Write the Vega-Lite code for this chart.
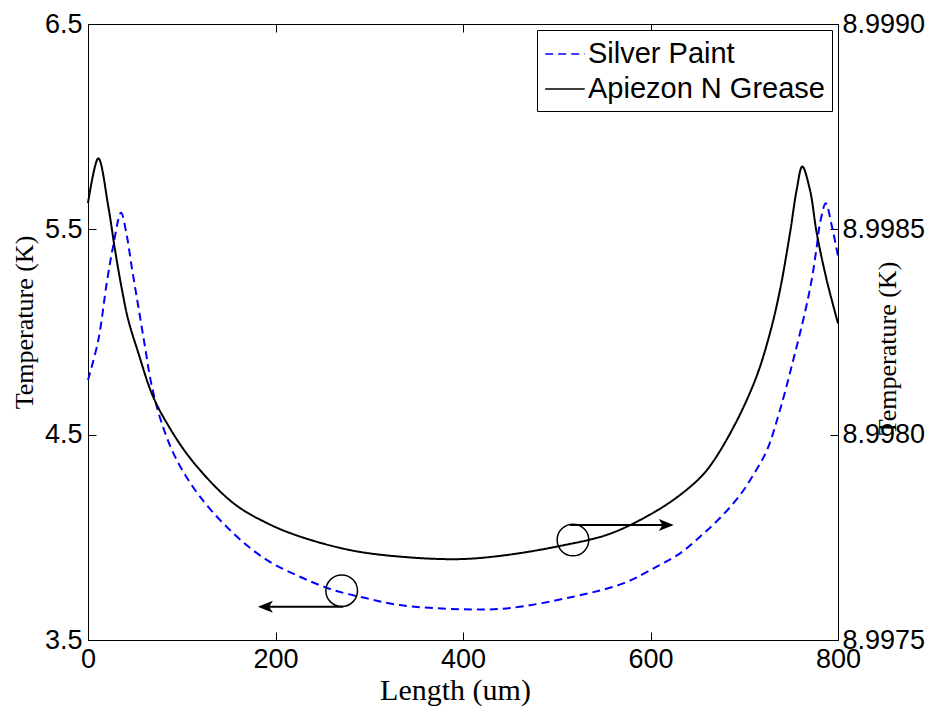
{
  "$schema": "https://vega.github.io/schema/vega-lite/v6.json",
  "width": 750,
  "height": 616,
  "autosize": "none",
  "padding": {"left": 88, "top": 24, "right": 100, "bottom": 75},
  "background": "white",
  "config": {
    "view": {"stroke": "#000", "strokeWidth": 1},
    "axis": {
      "domainColor": "#000",
      "tickColor": "#000",
      "tickSize": -8,
      "labelFont": "Liberation Sans",
      "labelFontSize": 27,
      "labelColor": "#000",
      "labelFlush": false,
      "labelOverlap": false,
      "labelBound": false,
      "grid": false,
      "titleFont": "Liberation Serif",
      "titleFontWeight": "normal",
      "titleColor": "#000"
    },
    "legend": {
      "orient": "top-right",
      "offset": 6,
      "strokeColor": "#000",
      "fillColor": "#fff",
      "padding": 7,
      "labelFont": "Liberation Sans",
      "labelFontSize": 29,
      "labelColor": "#000",
      "labelLimit": 400,
      "symbolType": "M-1,0H1.5",
      "symbolSize": 1000,
      "symbolStrokeWidth": 1.5,
      "labelOffset": 10,
      "rowPadding": 3,
      "title": null
    }
  },
  "datasets": {
    "silver": [
      {"len": 0, "temp": 4.766, "series": "Silver Paint"},
      {"len": 11, "temp": 4.961, "series": "Silver Paint"},
      {"len": 20, "temp": 5.239, "series": "Silver Paint"},
      {"len": 27, "temp": 5.422, "series": "Silver Paint"},
      {"len": 35.2, "temp": 5.581, "series": "Silver Paint"},
      {"len": 41.3, "temp": 5.471, "series": "Silver Paint"},
      {"len": 46.6, "temp": 5.318, "series": "Silver Paint"},
      {"len": 53.7, "temp": 5.123, "series": "Silver Paint"},
      {"len": 60.8, "temp": 4.928, "series": "Silver Paint"},
      {"len": 67.9, "temp": 4.74, "series": "Silver Paint"},
      {"len": 78.6, "temp": 4.557, "series": "Silver Paint"},
      {"len": 94.6, "temp": 4.377, "series": "Silver Paint"},
      {"len": 119.5, "temp": 4.198, "series": "Silver Paint"},
      {"len": 154.7, "temp": 4.021, "series": "Silver Paint"},
      {"len": 190.6, "temp": 3.89, "series": "Silver Paint"},
      {"len": 226.1, "temp": 3.808, "series": "Silver Paint"},
      {"len": 261.3, "temp": 3.744, "series": "Silver Paint"},
      {"len": 297.3, "temp": 3.703, "series": "Silver Paint"},
      {"len": 332.8, "temp": 3.67, "series": "Silver Paint"},
      {"len": 396.8, "temp": 3.65, "series": "Silver Paint"},
      {"len": 446.6, "temp": 3.654, "series": "Silver Paint"},
      {"len": 517.7, "temp": 3.711, "series": "Silver Paint"},
      {"len": 571, "temp": 3.776, "series": "Silver Paint"},
      {"len": 606.6, "temp": 3.857, "series": "Silver Paint"},
      {"len": 631.5, "temp": 3.922, "series": "Silver Paint"},
      {"len": 652.8, "temp": 4.003, "series": "Silver Paint"},
      {"len": 674.1, "temp": 4.094, "series": "Silver Paint"},
      {"len": 695.5, "temp": 4.206, "series": "Silver Paint"},
      {"len": 711.5, "temp": 4.318, "series": "Silver Paint"},
      {"len": 724.3, "temp": 4.425, "series": "Silver Paint"},
      {"len": 738.1, "temp": 4.62, "series": "Silver Paint"},
      {"len": 752.3, "temp": 4.864, "series": "Silver Paint"},
      {"len": 764.8, "temp": 5.097, "series": "Silver Paint"},
      {"len": 771.9, "temp": 5.253, "series": "Silver Paint"},
      {"len": 777.3, "temp": 5.415, "series": "Silver Paint"},
      {"len": 780.8, "temp": 5.529, "series": "Silver Paint"},
      {"len": 786.9, "temp": 5.627, "series": "Silver Paint"},
      {"len": 793.3, "temp": 5.519, "series": "Silver Paint"},
      {"len": 800, "temp": 5.37, "series": "Silver Paint"}
    ],
    "grease": [
      {"len": 0, "temp": 8.998564, "series": "Apiezon N Grease"},
      {"len": 11, "temp": 8.998673, "series": "Apiezon N Grease"},
      {"len": 21.7, "temp": 8.998555, "series": "Apiezon N Grease"},
      {"len": 28.8, "temp": 8.99845, "series": "Apiezon N Grease"},
      {"len": 35.9, "temp": 8.998357, "series": "Apiezon N Grease"},
      {"len": 43, "temp": 8.998279, "series": "Apiezon N Grease"},
      {"len": 53.7, "temp": 8.998199, "series": "Apiezon N Grease"},
      {"len": 67.9, "temp": 8.998101, "series": "Apiezon N Grease"},
      {"len": 82.1, "temp": 8.998036, "series": "Apiezon N Grease"},
      {"len": 110.6, "temp": 8.997938, "series": "Apiezon N Grease"},
      {"len": 154.7, "temp": 8.997834, "series": "Apiezon N Grease"},
      {"len": 190.6, "temp": 8.997785, "series": "Apiezon N Grease"},
      {"len": 226.1, "temp": 8.997752, "series": "Apiezon N Grease"},
      {"len": 279.5, "temp": 8.997719, "series": "Apiezon N Grease"},
      {"len": 332.8, "temp": 8.997703, "series": "Apiezon N Grease"},
      {"len": 396.8, "temp": 8.997697, "series": "Apiezon N Grease"},
      {"len": 446.6, "temp": 8.997707, "series": "Apiezon N Grease"},
      {"len": 503.5, "temp": 8.997729, "series": "Apiezon N Grease"},
      {"len": 553.3, "temp": 8.997756, "series": "Apiezon N Grease"},
      {"len": 588.8, "temp": 8.997792, "series": "Apiezon N Grease"},
      {"len": 624.3, "temp": 8.997841, "series": "Apiezon N Grease"},
      {"len": 652.8, "temp": 8.997895, "series": "Apiezon N Grease"},
      {"len": 667, "temp": 8.997935, "series": "Apiezon N Grease"},
      {"len": 691.9, "temp": 8.998033, "series": "Apiezon N Grease"},
      {"len": 713.3, "temp": 8.998143, "series": "Apiezon N Grease"},
      {"len": 727.5, "temp": 8.998248, "series": "Apiezon N Grease"},
      {"len": 738.1, "temp": 8.998352, "series": "Apiezon N Grease"},
      {"len": 748.8, "temp": 8.998491, "series": "Apiezon N Grease"},
      {"len": 755.9, "temp": 8.998596, "series": "Apiezon N Grease"},
      {"len": 761.9, "temp": 8.998653, "series": "Apiezon N Grease"},
      {"len": 770.1, "temp": 8.998596, "series": "Apiezon N Grease"},
      {"len": 777.3, "temp": 8.998491, "series": "Apiezon N Grease"},
      {"len": 787.9, "temp": 8.998377, "series": "Apiezon N Grease"},
      {"len": 800, "temp": 8.998271, "series": "Apiezon N Grease"}
    ],
    "circles": [
      {"len": 517.3, "temp": 3.987},
      {"len": 270.6, "temp": 3.74}
    ],
    "arrows": [
      {"len": 514, "len2": 620, "temp": 4.06},
      {"len": 272.3, "len2": 186, "temp": 3.662}
    ],
    "heads": [
      {"len": 616.8, "temp": 4.06, "ang": 0},
      {"len": 189.2, "temp": 3.662, "ang": 180}
    ]
  },
  "layer": [
    {
      "layer": [
        {
          "data": {"name": "silver"},
          "mark": {"type": "line", "interpolate": "catmull-rom", "strokeWidth": 2},
          "encoding": {
            "x": {
              "field": "len", "type": "quantitative",
              "scale": {"domain": [0, 800], "nice": false, "zero": false},
              "axis": {"orient": "bottom", "values": [0, 200, 400, 600, 800], "format": "d", "labelPadding": 14,
                "title": "Length (um)", "titleFontSize": 30, "titleX": 367, "titleY": 50, "titleBaseline": "middle", "titleAlign": "center"}
            },
            "y": {
              "field": "temp", "type": "quantitative",
              "scale": {"domain": [3.5, 6.5], "nice": false, "zero": false},
              "axis": {"orient": "left", "values": [3.5, 4.5, 5.5, 6.5], "format": ".1f", "labelPadding": 14,
                "title": "Temperature (K)", "titleFontSize": 26, "titleX": -64, "titleY": 298, "titleAngle": 270, "titleBaseline": "middle", "titleAlign": "center"}
            },
            "color": {"field": "series", "type": "nominal",
              "scale": {"domain": ["Silver Paint", "Apiezon N Grease"], "range": ["#0000ff", "#000000"]}},
            "strokeDash": {"field": "series", "type": "nominal",
              "scale": {"domain": ["Silver Paint", "Apiezon N Grease"], "range": [[8, 5], [1, 0]]}}
          }
        },
        {
          "data": {"name": "circles"},
          "mark": {"type": "point", "shape": "circle", "filled": false, "size": 1000, "stroke": "#000", "strokeWidth": 1.5, "opacity": 1},
          "encoding": {
            "x": {"field": "len", "type": "quantitative"},
            "y": {"field": "temp", "type": "quantitative"}
          }
        },
        {
          "data": {"name": "arrows"},
          "mark": {"type": "rule", "strokeWidth": 2, "color": "#000"},
          "encoding": {
            "x": {"field": "len", "type": "quantitative"},
            "x2": {"field": "len2"},
            "y": {"field": "temp", "type": "quantitative"}
          }
        },
        {
          "data": {"name": "heads"},
          "mark": {"type": "point", "shape": "M1,0L-1,-0.8L-0.5,0L-1,0.8Z", "filled": true, "size": 225, "color": "#000", "opacity": 1},
          "encoding": {
            "x": {"field": "len", "type": "quantitative"},
            "y": {"field": "temp", "type": "quantitative"},
            "angle": {"field": "ang", "type": "quantitative", "scale": null}
          }
        }
      ]
    },
    {
      "data": {"name": "grease"},
      "mark": {"type": "line", "interpolate": "catmull-rom", "strokeWidth": 2},
      "encoding": {
        "x": {
          "field": "len", "type": "quantitative",
          "scale": {"domain": [0, 800], "nice": false, "zero": false},
          "axis": {"orient": "top", "values": [0, 200, 400, 600, 800], "labels": false, "title": null}
        },
        "y": {
          "field": "temp", "type": "quantitative",
          "scale": {"domain": [8.9975, 8.999], "nice": false, "zero": false},
          "axis": {"orient": "right", "values": [8.9975, 8.998, 8.9985, 8.999], "format": ".4f", "labelPadding": 12,
            "title": "Temperature (K)", "titleFontSize": 26, "titleX": 49, "titleY": 324, "titleAngle": 270, "titleBaseline": "middle", "titleAlign": "center"}
        },
        "color": {"field": "series", "type": "nominal"},
        "strokeDash": {"field": "series", "type": "nominal"}
      }
    }
  ],
  "resolve": {"scale": {"x": "independent", "y": "independent"}}
}
